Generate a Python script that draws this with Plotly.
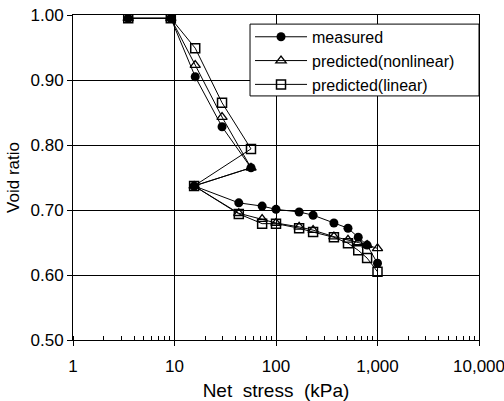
import plotly.graph_objects as go

stress = [3.5, 9.2, 16, 29.4, 56.7, 15.6, 43, 73, 100, 169, 232, 372, 512, 646, 790, 1000]
measured = [0.995, 0.995, 0.905, 0.828, 0.765, 0.737, 0.711, 0.706, 0.701, 0.697, 0.692, 0.680, 0.672, 0.658, 0.646, 0.618]
pred_nonlinear = [0.995, 0.995, 0.923, 0.843, 0.765, 0.737, 0.695, 0.686, 0.680, 0.674, 0.669, 0.659, 0.654, 0.650, 0.646, 0.641]
pred_linear = [0.995, 0.995, 0.949, 0.865, 0.794, 0.737, 0.694, 0.679, 0.679, 0.672, 0.666, 0.658, 0.649, 0.638, 0.626, 0.605]

series_names = ["measured", "predicted(nonlinear)", "predicted(linear)"]

x_tickvals = [1, 10, 100, 1000, 10000]
x_ticktext = ["1", "10", "100", "1,000", "10,000"]
y_tickvals = [0.5, 0.6, 0.7, 0.8, 0.9, 1.0]
y_ticktext = ["0.50", "0.60", "0.70", "0.80", "0.90", "1.00"]

fig = go.Figure()
fig.add_trace(go.Scatter(x=stress, y=measured, name=series_names[0], mode="lines+markers",
                         line=dict(color="black", width=1),
                         marker=dict(symbol="circle", size=9, color="black")))
fig.add_trace(go.Scatter(x=stress, y=pred_nonlinear, name=series_names[1], mode="lines+markers",
                         line=dict(color="black", width=1),
                         marker=dict(symbol="triangle-up-open", size=9, color="black", line=dict(width=1.3))))
fig.add_trace(go.Scatter(x=stress, y=pred_linear, name=series_names[2], mode="lines+markers",
                         line=dict(color="black", width=1),
                         marker=dict(symbol="square-open", size=9, color="black", line=dict(width=1.5))))

font = "Liberation Sans, Arial, sans-serif"
fig.update_layout(
    width=504, height=401,
    margin=dict(l=73, r=25, t=15, b=61),
    paper_bgcolor="white", plot_bgcolor="white",
    font=dict(family=font, size=17, color="black"),
    showlegend=True,
    legend=dict(x=0.436, xanchor="left", y=0.985, yanchor="top",
                bgcolor="rgba(0,0,0,0)", borderwidth=0,
                font=dict(family=font, size=16, color="black"),
                tracegroupgap=0, itemwidth=52),
    # legend frame drawn as a box spanning to the plot's right edge
    shapes=[dict(type="rect", xref="paper", yref="paper", x0=0.436, x1=1.0, y0=0.751, y1=0.972,
                 fillcolor="white", line=dict(color="black", width=1), layer="above")],
)
fig.update_xaxes(type="log", range=[0, 4], tickvals=x_tickvals, ticktext=x_ticktext,
                 automargin=False, ticklabeloverflow="allow",
                 showgrid=True, gridcolor="black", gridwidth=1,
                 showline=True, linecolor="black", linewidth=1, mirror=True,
                 ticks="outside", ticklen=5, tickcolor="black", ticklabelstandoff=6,
                 minor=dict(ticks="inside", ticklen=4, tickcolor="black", dtick="D1", showgrid=False),
                 title=dict(text="Net  stress  (kPa)", font=dict(size=19), standoff=8),
                 tickfont=dict(size=17))
fig.update_yaxes(range=[0.5, 1.0], tickvals=y_tickvals, ticktext=y_ticktext,
                 automargin=False, ticklabeloverflow="allow",
                 showgrid=True, gridcolor="black", gridwidth=1,
                 showline=True, linecolor="black", linewidth=1, mirror=True,
                 ticks="outside", ticklen=5, tickcolor="black",
                 title=dict(text="Void ratio", font=dict(size=17), standoff=6),
                 tickfont=dict(size=17))

fig.write_html("out.html", config={"displayModeBar": False},
               post_script="document.body.style.margin='0';")
